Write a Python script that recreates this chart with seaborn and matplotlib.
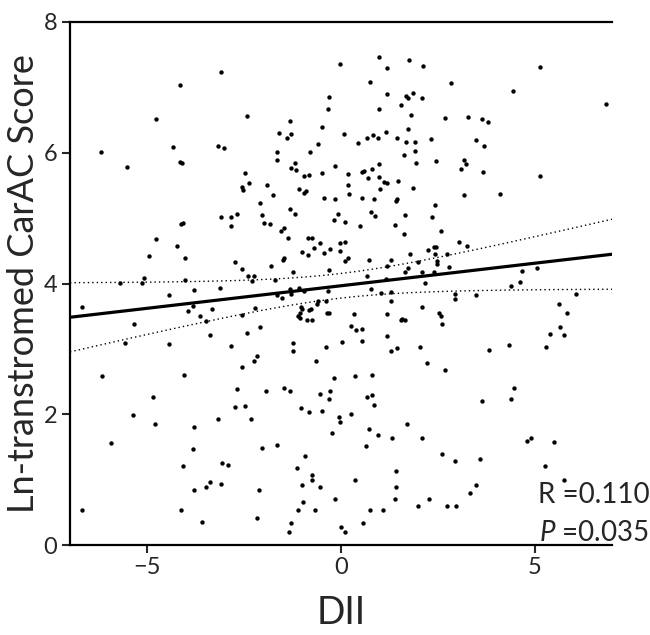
import numpy as np
import pandas as pd
import matplotlib
matplotlib.use("Agg")
import matplotlib.pyplot as plt
import seaborn as sns

# DII vs Ln-transformed CarAC score
dii = [
    -3.10, -4.15, -4.78, -4.33, -3.18, -3.03, -6.20,
    -2.43, -1.60, -1.33, -1.40, -1.30, -1.65, -0.80, -0.60, -0.50, -0.33, -0.30, -0.03,
    0.08, 0.45, 0.68, 0.83, 0.95, 0.75, 0.98, 1.20, 0.98, 1.20, 1.15, 1.45, 1.55,
    1.75, 2.13, 2.85, 1.68, 1.73, 1.85, 2.08, 1.80, 2.68, 3.28, 3.63, 3.80, 4.43, 5.15,
    1.73, 1.68, 1.90, 1.90, 2.33, 3.48, 3.70,
    -5.53, -4.15, -4.10, -3.10, -4.13, -4.08, -4.78, -4.23, -4.95, -4.03, -5.10, -5.15,
    -4.03, -5.70,
    -1.65, -1.20, -1.28, -1.15, -0.95, -0.83, -2.48, -2.38, -2.55, -2.53, -1.90, -1.75,
    -2.10, -1.08, -0.90, -0.95, -0.48, -0.15, 0.18, 0.18, 0.20, -0.43, -0.15, 0.55,
    0.60, 0.80, 0.98, 0.70, 0.98, 1.10, 1.20, 1.48, 1.00, 0.53, 0.85, 1.45, 1.43,
    -2.83, -2.68, -2.83, -2.03, -2.00, -1.83, -1.33, -1.20, -1.48, -1.55, -1.38, -0.85,
    -0.75, -0.08, -0.18, 0.10, 0.48, 0.78, 0.88, 1.40, -0.55, -0.70, -1.00, -0.85,
    -0.43, -0.28, -0.03, 0.10, -0.03, 0.18, 0.10, -1.48, -1.50, -1.80, -2.75, -2.55,
    -2.40, -2.25, -2.30, -1.70, -1.25, -0.30, 0.73, 1.28, 1.20, 0.68, 1.15,
    1.63, 1.93, 2.45, 3.18, 3.23, 3.10, 3.68, 5.13, 1.85, 3.18, 4.10, 2.43, 1.65, 2.35,
    1.63, 2.58, 3.05, 3.25, 1.78, 2.25, 2.40, 2.45, 2.43, 2.73, 2.00, 2.48, 2.48, 2.78,
    1.73, 1.65, 2.08, 2.40, 4.68, 5.05, 4.63, 2.18,
    -6.68, -4.45, -3.80, -3.13, -3.95, -3.83, -3.65, -3.33, -3.50, -5.35, -3.38, -5.58,
    -4.45, -6.18, -4.05, -4.85,
    -1.65, -1.53, -1.33, -1.30, -1.08, -0.95, -0.33, 0.78, 1.03, 1.28, -2.23, -2.55,
    -1.03, -1.00, -1.05, -1.10, -1.05, -0.88, -0.75, -0.83, -0.78, -0.60, -0.63, -0.38,
    -0.35, -0.30, 0.33, 1.30, 1.18, 1.55, -2.08, -2.43, 0.25, 0.40, 0.55, 1.20, -2.83,
    -1.23, -1.25, -0.38, 0.03, 0.55, 1.45, 1.28, -2.18, -2.25, -0.65, -2.55, -0.18,
    0.35, 0.80, -2.68, -1.93, -1.48, -1.33, -0.55, -0.28, -0.30, 0.68, 0.80, 0.85,
    -2.73, -2.48, -1.03, -0.83, -0.48, 0.25,
    4.40, 2.95, 2.95, 3.48, 6.08, 2.08, 1.58, 1.65, 2.53, 2.58, 2.60, 5.63, 5.85, 5.65,
    5.40, 5.75, 2.05, 3.83, 4.35, 5.30, 2.23, 2.68, 4.48, 4.38, 3.65, 6.85,
    -5.38, -4.80, -3.80, -3.18, -5.93, -3.83, -4.08, -3.08, -3.80, -3.50, -3.38, -3.10,
    -6.70, -4.13, -3.58,
    -2.33, -0.05, -0.03, -0.23, 0.73, 0.95, 1.33, -2.03, -1.65, -0.93, 0.65, -2.93,
    -1.13, -0.75, -0.75, -1.00, -0.53, 0.35, 1.43, 1.43, -2.13, -0.15, 1.40, -0.98,
    -1.10, -0.68, 0.75, 1.08, -2.18, -1.30, 0.58, -1.35, 0.00, 0.10,
    1.70, 2.10, 2.60, 2.95, 3.60, 4.80, 4.90, 5.50, 5.28, 5.75, 3.50, 3.33, 2.00, 2.28,
    2.73, 2.98,
]

score = [
    7.23, 7.03, 6.51, 6.09, 6.10, 6.07, 6.01,
    6.56, 6.30, 6.48, 6.22, 6.28, 6.01, 6.01, 6.13, 6.39, 6.67, 6.85, 7.35,
    6.28, 6.15, 6.22, 6.27, 6.22, 7.08, 7.46, 7.29, 6.67, 6.90, 6.32, 6.22, 6.73,
    7.42, 7.32, 7.06, 6.87, 6.83, 6.91, 6.83, 6.57, 6.53, 6.54, 6.51, 6.47, 6.94, 7.31,
    6.36, 6.16, 6.16, 6.02, 6.21, 6.19, 6.10,
    5.78, 5.86, 5.84, 5.02, 4.91, 4.92, 4.68, 4.57, 4.42, 4.39, 4.08, 4.01,
    4.05, 4.01,
    5.89, 5.84, 5.76, 5.73, 5.64, 5.66, 5.69, 5.54, 5.47, 5.43, 5.50, 5.35,
    5.23, 5.44, 5.41, 5.38, 5.69, 5.80, 5.67, 5.50, 5.37, 5.31, 5.29, 5.70,
    5.72, 5.75, 5.83, 5.61, 5.63, 5.55, 5.54, 5.57, 5.44, 5.31, 5.29, 5.29, 5.26,
    5.02, 5.06, 4.88, 5.05, 4.92, 4.91, 5.14, 5.06, 4.85, 4.80, 4.69, 4.69,
    4.69, 5.06, 4.97, 4.94, 4.88, 5.09, 5.03, 4.89, 4.62, 4.54, 4.48, 4.43,
    4.46, 4.53, 4.62, 4.63, 4.50, 4.39, 4.34, 4.39, 4.36, 4.27, 4.33, 4.22,
    4.11, 4.11, 4.04, 4.05, 4.17, 4.20, 4.36, 4.36, 4.27, 4.11, 4.07,
    5.96, 5.84, 5.87, 5.89, 5.83, 5.75, 5.70, 5.64, 5.46, 5.35, 5.37, 5.20, 5.05, 5.02,
    4.76, 4.80, 4.63, 4.57, 4.45, 4.51, 4.56, 4.56, 4.45, 4.45, 4.33, 4.34, 4.30, 4.25,
    4.24, 4.17, 4.17, 4.17, 4.19, 4.24, 4.02, 4.01,
    3.64, 3.82, 3.90, 3.93, 3.58, 3.65, 3.50, 3.61, 3.43, 3.38, 3.21, 3.09,
    3.07, 2.58, 2.60, 2.26,
    3.82, 3.78, 3.91, 3.84, 3.93, 3.88, 3.88, 3.91, 3.85, 3.87, 3.62, 3.52,
    3.64, 3.61, 3.55, 3.50, 3.47, 3.44, 3.44, 3.59, 3.61, 3.73, 3.69, 3.73,
    3.55, 3.55, 3.53, 3.73, 3.53, 3.44, 3.33, 3.24, 3.35, 3.29, 3.30, 3.20, 3.04,
    3.09, 2.97, 3.03, 3.10, 3.12, 3.01, 2.97, 2.89, 2.81, 2.81, 2.72, 2.55,
    2.58, 2.60, 2.39, 2.35, 2.40, 2.35, 2.31, 2.35, 2.23, 2.26, 2.29, 2.14,
    2.11, 2.13, 2.09, 2.03, 2.05, 2.00,
    3.96, 3.84, 3.76, 3.82, 3.84, 3.64, 3.46, 3.44, 3.55, 3.50, 3.38, 3.69, 3.55, 3.33,
    3.23, 3.21, 3.03, 2.98, 3.06, 3.03, 2.78, 2.68, 2.40, 2.23, 2.20, 6.75,
    1.99, 1.85, 1.80, 1.93, 1.56, 1.47, 1.21, 1.25, 0.84, 0.89, 0.96, 0.93,
    0.54, 0.54, 0.35,
    1.93, 1.96, 1.88, 1.71, 1.77, 1.68, 1.64, 1.48, 1.53, 1.36, 1.51, 1.22,
    1.18, 1.07, 0.99, 0.92, 0.89, 0.99, 1.13, 0.89, 0.84, 0.70, 0.70, 0.66,
    0.54, 0.54, 0.54, 0.54, 0.41, 0.34, 0.34, 0.20, 0.28, 0.20,
    1.85, 1.64, 1.39, 1.28, 1.31, 1.59, 1.64, 1.57, 1.21, 0.99, 0.92, 0.80, 0.60, 0.70,
    0.60, 0.60,
]

r_text = "R =0.110"
p_text = "=0.035"

df = pd.DataFrame({"DII": dii, "score": score})

sns.set_theme(style="ticks")
plt.rcParams["font.family"] = ["Lato", "DejaVu Sans"]
plt.rcParams["mathtext.fontset"] = "custom"
plt.rcParams["mathtext.it"] = "Lato:italic"
plt.rcParams["mathtext.rm"] = "Lato"

fig = plt.figure(figsize=(6.5, 6.35), dpi=100)
ax = fig.add_axes([70 / 650, 90 / 635, 542 / 650, 523 / 635])

sns.scatterplot(data=df, x="DII", y="score", ax=ax, color="black",
                s=10, linewidth=0, zorder=3, clip_on=False)

# linear fit with 95% confidence band of the mean
x = df["DII"].to_numpy()
y = df["score"].to_numpy()
n = len(x)
slope, intercept = np.polyfit(x, y, 1)
resid = y - (slope * x + intercept)
s_err = np.sqrt(np.sum(resid ** 2) / (n - 2))
xs = np.linspace(-7, 7, 200)
fit = slope * xs + intercept
half = 1.966 * s_err * np.sqrt(1 / n + (xs - x.mean()) ** 2 / np.sum((x - x.mean()) ** 2))

ax.plot(xs, fit, color="black", lw=2.3, zorder=4)
ax.plot(xs, fit + half, color="black", lw=1.0, ls=(0, (1, 2.2)), zorder=4)
ax.plot(xs, fit - half, color="black", lw=1.0, ls=(0, (1, 2.2)), zorder=4)

ax.set_xlim(-7, 7)
ax.set_ylim(0, 8)
ax.set_xticks([-5, 0, 5])
ax.set_yticks([0, 2, 4, 6, 8])
ax.tick_params(axis="both", labelsize=17, length=6, width=1.5, direction="out", pad=3)
for side in ["left", "bottom", "top"]:
    ax.spines[side].set_linewidth(1.6)
    ax.spines[side].set_color("black")
ax.spines["right"].set_visible(False)

ax.set_xlabel("DII", fontsize=27, labelpad=12)
ax.set_ylabel("Ln-transtromed CarAC Score", fontsize=26)
ax.yaxis.set_label_coords(-0.056, 0.5)

fig.text(0.999, 1 - 495 / 635, r_text, ha="right", va="center", fontsize=20)
fig.text(0.999, 1 - 533 / 635, r"$\mathit{P}$ " + p_text, ha="right", va="center", fontsize=20)

fig.savefig("out.png", dpi=100, facecolor="white")
